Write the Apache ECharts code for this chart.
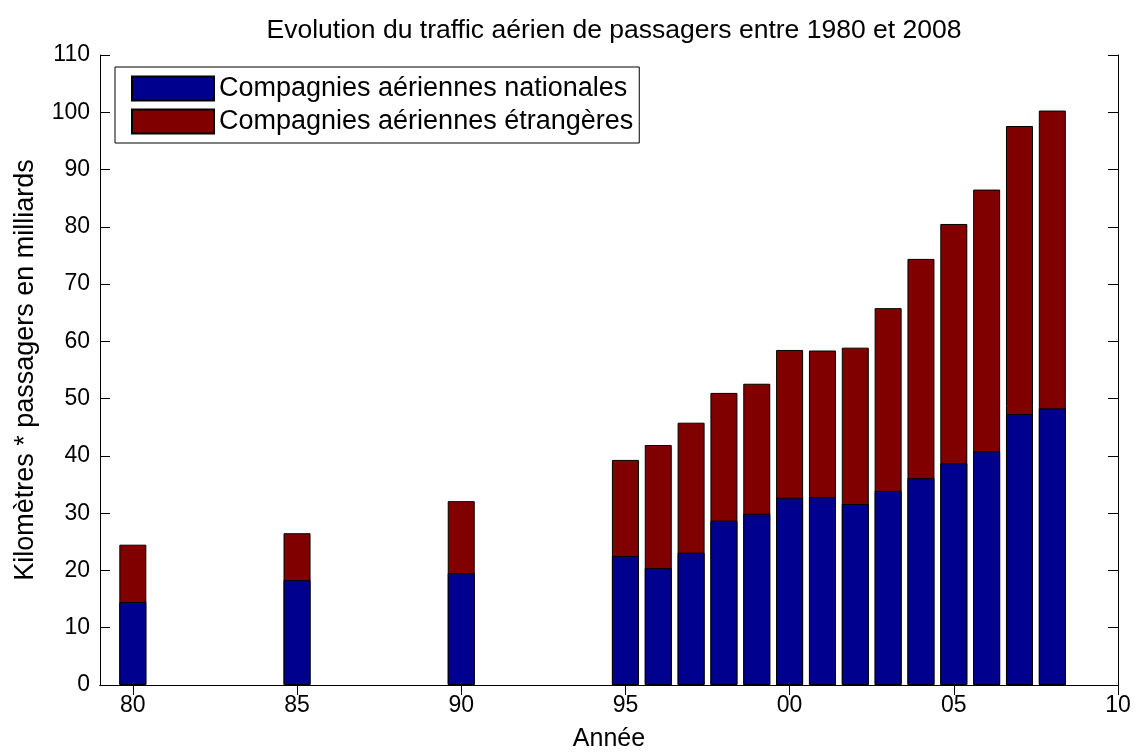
<!DOCTYPE html>
<html>
<head>
<meta charset="utf-8">
<script src="https://cdn.jsdelivr.net/npm/echarts@6/dist/echarts.min.js"></script>
<style>
  html, body { margin: 0; padding: 0; background: #fff; }
  #chart { width: 1139px; height: 753px; }
</style>
</head>
<body>
<div id="chart"></div>
<script>
// années et valeurs (milliards de km*passagers)
var years = [1980, 1985, 1990, 1995, 1996, 1997, 1998, 1999, 2000, 2001, 2002, 2003, 2004, 2005, 2006, 2007, 2008]
var nationales = [14.5, 18.3, 19.5, 22.5, 20.4, 23.1, 28.7, 29.9, 32.7, 32.8, 31.6, 33.9, 36.1, 38.7, 40.8, 47.3, 48.3]
// hauteur totale de chaque barre empilée (nationales + étrangères)
var totaux = [24.5, 26.5, 32.1, 39.3, 41.9, 45.8, 51.0, 52.6, 58.5, 58.4, 58.9, 65.8, 74.4, 80.5, 86.5, 97.6, 100.3]
var xTicks = [1980, 1985, 1990, 1995, 2000, 2005, 2010]

var chart = echarts.init(document.getElementById('chart'))
var font = 'Liberation Sans, Arial, Helvetica, sans-serif'

function yearLabel(v) {
  var s = String(v % 100)
  return s.length < 2 ? '0' + s : s
}

var axisLine = { show: true, lineStyle: { color: '#000', width: 1 } }
var tickStyle = { inside: true, length: 10, lineStyle: { color: '#000', width: 1 } }

chart.setOption({
  backgroundColor: '#fff',
  animation: false,
  title: {
    text: 'Evolution du traffic aérien de passagers entre 1980 et 2008',
    left: 609,
    textAlign: 'center',
    top: 12,
    textStyle: { fontFamily: font, fontWeight: 'normal', fontSize: 26.5, color: '#000' }
  },
  legend: {
    orient: 'vertical',
    left: 115,
    top: 67,
    padding: [8, 6, 8, 16],
    itemGap: 6,
    itemWidth: 82,
    itemHeight: 24,
    borderColor: '#000',
    borderWidth: 1,
    backgroundColor: '#fff',
    icon: 'rect',
    textStyle: { fontFamily: font, fontSize: 27, lineHeight: 24, color: '#000' },
    data: ['Compagnies aériennes nationales', 'Compagnies aériennes étrangères']
  },
  grid: { left: 100, right: 21, top: 55, bottom: 68, outerBoundsMode: 'none' },
  xAxis: [{
    type: 'value',
    min: 1979,
    max: 2010,
    name: 'Année',
    nameLocation: 'middle',
    nameGap: 42,
    nameTextStyle: { fontFamily: font, fontSize: 25, color: '#000' },
    axisLine: axisLine,
    axisTick: Object.assign({ customValues: xTicks }, tickStyle),
    splitLine: { show: false },
    axisLabel: {
      customValues: xTicks,
      formatter: yearLabel,
      margin: 9,
      fontFamily: font,
      fontSize: 23,
      color: '#000'
    }
  }, {
    type: 'value',
    position: 'top',
    min: 1979,
    max: 2010,
    axisLine: axisLine,
    axisTick: Object.assign({ customValues: xTicks }, tickStyle),
    axisLabel: { show: false },
    splitLine: { show: false }
  }],
  yAxis: [{
    type: 'value',
    min: 0,
    max: 110,
    interval: 10,
    name: 'Kilomètres * passagers en milliards',
    nameLocation: 'middle',
    nameGap: 61,
    nameTextStyle: { fontFamily: font, fontSize: 27, color: '#000' },
    axisLine: axisLine,
    axisTick: tickStyle,
    splitLine: { show: false },
    axisLabel: { margin: 10, fontFamily: font, fontSize: 23, color: '#000' }
  }, {
    type: 'value',
    position: 'right',
    min: 0,
    max: 110,
    interval: 10,
    axisLine: axisLine,
    axisTick: tickStyle,
    axisLabel: { show: false },
    splitLine: { show: false }
  }],
  // la barre totale (rouge) est dessinée d'abord, la part nationale (bleue) par-dessus
  series: [{
    name: 'Compagnies aériennes étrangères',
    type: 'bar',
    barWidth: 27,
    barGap: '-100%',
    itemStyle: { color: '#800000', borderColor: '#000', borderWidth: 1 },
    data: years.map(function(y, i) { return [y, totaux[i]] })
  }, {
    name: 'Compagnies aériennes nationales',
    type: 'bar',
    barWidth: 27,
    barGap: '-100%',
    itemStyle: { color: '#00008F', borderColor: '#000', borderWidth: 1 },
    data: years.map(function(y, i) { return [y, nationales[i]] })
  }]
})
</script>
</body>
</html>
